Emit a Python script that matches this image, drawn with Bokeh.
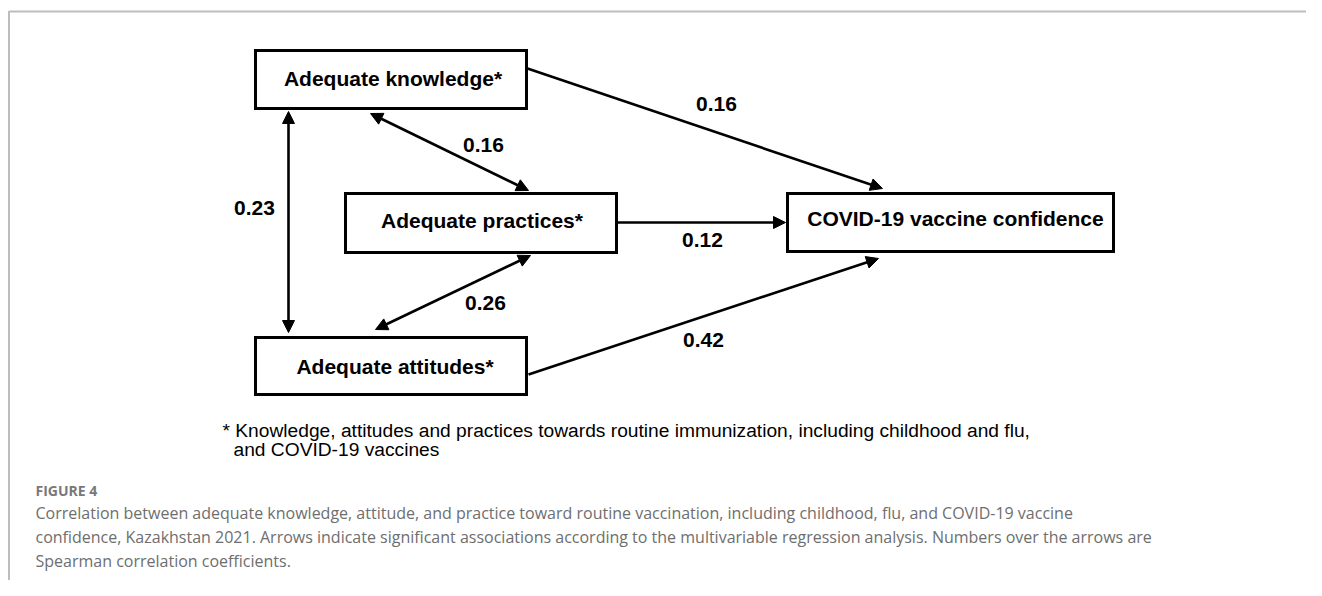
from bokeh.plotting import figure
from bokeh.models import Range1d, Arrow, NormalHead, ColumnDataSource
from bokeh.core.properties import value
from bokeh.embed import file_html
from bokeh.resources import INLINE

# ---------------- data ----------------
node_labels = ["Adequate knowledge*", "Adequate practices*",
               "Adequate attitudes*", "COVID-19 vaccine confidence"]
edge_from = [0, 0, 0, 1, 1, 2]
edge_to = [3, 1, 2, 3, 2, 3]
edge_coef = [0.16, 0.16, 0.23, 0.12, 0.26, 0.42]
edge_both_ways = [False, True, True, False, True, False]

footnote_lines = [
    "* Knowledge, attitudes and practices towards routine immunization, including childhood and flu,",
    "and COVID-19 vaccines",
]
caption_title = "FIGURE 4"
caption_lines = [
    "Correlation between adequate knowledge, attitude, and practice toward routine vaccination, including childhood, flu, and COVID-19 vaccine",
    "confidence, Kazakhstan 2021. Arrows indicate significant associations according to the multivariable regression analysis. Numbers over the arrows are",
    "Spearman correlation coefficients.",
]

# ---------------- layout (screen pixels) ----------------
box_left = [255, 345, 255, 787]
box_right = [526, 616, 526, 1113]
box_top = [50, 193, 337, 193]
box_bottom = [108, 252, 394, 251]
label_dx = [2, 1, 4, 5]
label_y = [78, 220, 366, 218]

arrow_x0 = [527, 370, 288, 616, 530, 528]
arrow_y0 = [68, 113, 111, 222, 255, 374]
arrow_x1 = [882, 528, 288, 785, 375, 878]
arrow_y1 = [188, 190, 332, 222, 329, 258]
coef_x = [716, 483, 254, 702, 485, 703]
coef_y = [103, 144, 207, 239, 302, 339]

FONT_DIAG = value("Liberation Sans")
FONT_CAP = value("Open Sans")

W, H = 1306, 580
p = figure(width=W, height=H, x_range=Range1d(0, W), y_range=Range1d(H, 0),
           output_backend="svg", toolbar_location=None, min_border=0)
p.axis.visible = False
p.grid.visible = False
p.outline_line_color = None
p.background_fill_color = "white"
p.border_fill_color = "white"

# frame
p.line(x=[8.5, 8.5, W + 10], y=[H + 10, 11, 11], line_color="#bdbdbd", line_width=2)

# boxes
box_src = ColumnDataSource(dict(
    left=box_left, right=box_right, top=box_top, bottom=box_bottom,
    cx=[(l + r) / 2 + d for l, r, d in zip(box_left, box_right, label_dx)],
    by=label_y, label=node_labels))
p.quad(left="left", right="right", top="top", bottom="bottom", source=box_src,
       fill_color="white", line_color="black", line_width=3, line_join="miter")
p.text(x="cx", y="by", text="label", source=box_src, text_align="center",
       text_baseline="alphabetic", text_font=FONT_DIAG, text_font_style="bold",
       text_font_size="21px", text_color="black")

# arrows
for i in range(len(edge_coef)):
    head_end = NormalHead(size=12, fill_color="black", line_color="black", line_width=1)
    head_start = NormalHead(size=12, fill_color="black", line_color="black", line_width=1) if edge_both_ways[i] else None
    p.add_layout(Arrow(x_start=arrow_x0[i], y_start=arrow_y0[i],
                       x_end=arrow_x1[i], y_end=arrow_y1[i],
                       start=head_start, end=head_end,
                       line_color="black", line_width=2.6))

coef_src = ColumnDataSource(dict(x=coef_x, y=coef_y, t=[f"{c:.2f}" for c in edge_coef]))
p.text(x="x", y="y", text="t", source=coef_src, text_align="center",
       text_baseline="alphabetic", text_font=FONT_DIAG, text_font_style="bold",
       text_font_size="21px", text_color="black")

# footnote
p.text(x=[222, 233], y=[430, 449], text=footnote_lines, text_align="left",
       text_baseline="alphabetic", text_font=FONT_DIAG, text_font_size="19.2px",
       text_color="black")

# caption
p.text(x=[35], y=[490], text=[caption_title], text_align="left",
       text_baseline="alphabetic", text_font=FONT_CAP, text_font_style="bold",
       text_font_size="14px", text_color="#787878")
p.text(x=[35, 35, 35], y=[512, 536, 560], text=caption_lines, text_align="left",
       text_baseline="alphabetic", text_font=FONT_CAP, text_font_size="16px",
       text_color="#6e6e6e")

open("out.html", "w").write(file_html(p, INLINE))
